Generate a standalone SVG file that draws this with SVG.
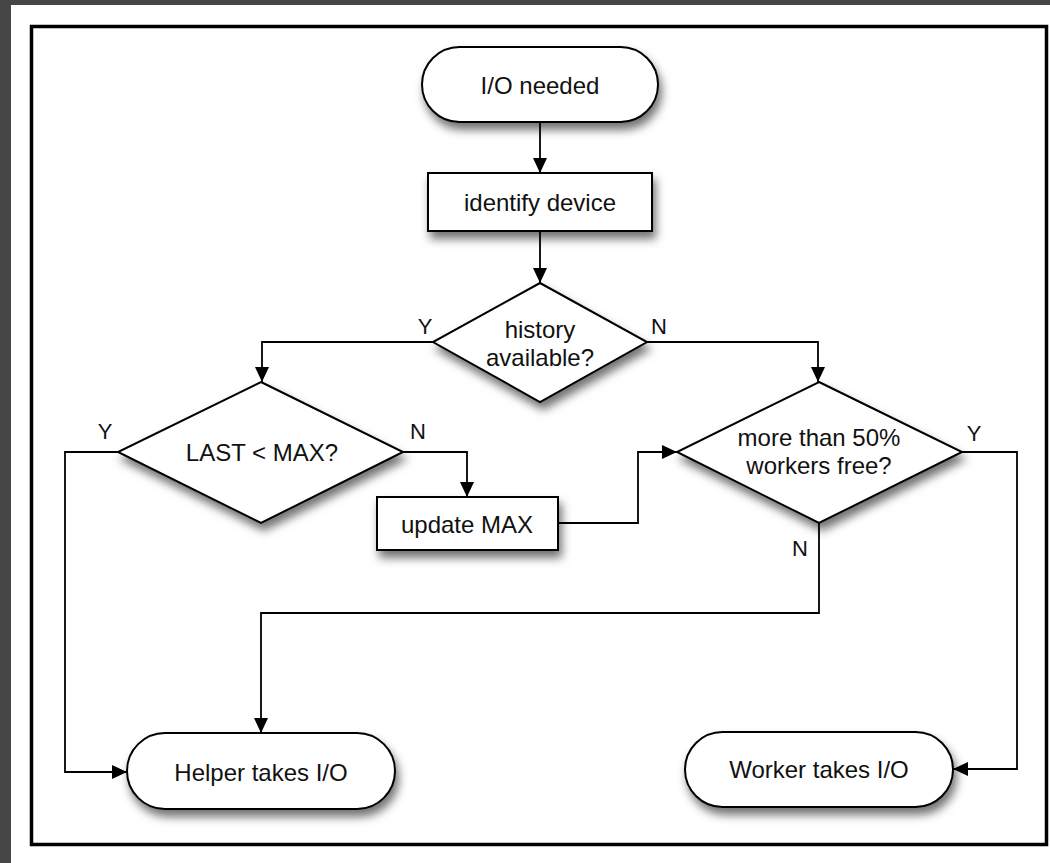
<svg xmlns="http://www.w3.org/2000/svg" width="1050" height="863" viewBox="0 0 1050 863">
<defs>
<filter id="sh" x="-20%" y="-20%" width="150%" height="160%">
<feDropShadow dx="3" dy="7" stdDeviation="5" flood-color="#000" flood-opacity="0.55"/>
</filter>
<marker id="arr" markerWidth="16" markerHeight="14" refX="15" refY="7" orient="auto" markerUnits="userSpaceOnUse">
<path d="M0,0 L15,7 L0,14 Z" fill="#000"/>
</marker>
</defs>
<style>
.shape{fill:#fff;stroke:#000;stroke-width:2;filter:url(#sh)}
.t{font-family:"Liberation Sans",Arial,sans-serif;font-size:24px;fill:#111;text-anchor:middle}
.lb{font-family:"Liberation Sans",Arial,sans-serif;font-size:22px;fill:#111;text-anchor:middle}
.c{fill:none;stroke:#000;stroke-width:1.8;marker-end:url(#arr)}
</style>
<rect x="0" y="0" width="1050" height="863" fill="#464646"/>
<rect x="11" y="5" width="1039" height="858" fill="#fff"/>
<rect x="31.5" y="26.5" width="1015" height="818" fill="none" stroke="#000" stroke-width="3.5"/>

<g id="connectors">
<path class="c" d="M540,122 L540,173"/>
<path class="c" d="M540,231 L540,283"/>
<path class="c" d="M433,342 L262,342 L262,382"/>
<path class="c" d="M647,342 L818,342 L818,382"/>
<path class="c" d="M118,452 L65,452 L65,772 L127,772"/>
<path class="c" d="M403,452 L467,452 L467,497"/>
<path class="c" d="M558,523 L638,523 L638,452 L677,452"/>
<path class="c" d="M962,452 L1017,452 L1017,769 L953,769"/>
<path class="c" d="M819,523 L819,613 L261,613 L261,733"/>
<text class="lb" x="425" y="334">Y</text>
<text class="lb" x="659" y="334">N</text>
<text class="lb" x="105" y="439">Y</text>
<text class="lb" x="418" y="439">N</text>
<text class="lb" x="974" y="441">Y</text>
<text class="lb" x="800" y="556">N</text>
</g>

<g id="io-needed">
<rect class="shape" x="422" y="47" width="236" height="75" rx="37.5" ry="37.5"/>
<text class="t" x="540" y="94">I/O needed</text>
</g>
<g id="identify-device">
<rect class="shape" x="428" y="173" width="224" height="58"/>
<text class="t" x="540" y="211">identify device</text>
</g>
<g id="history-available">
<polygon class="shape" points="540,283 647,342 540,402 433,342"/>
<text class="t" x="540" y="338">history</text>
<text class="t" x="540" y="366">available?</text>
</g>
<g id="last-max">
<polygon class="shape" points="261,382 403,452 261,523 118,452"/>
<text class="t" x="262" y="461">LAST &lt; MAX?</text>
</g>
<g id="update-max">
<rect class="shape" x="377" y="497" width="181" height="53"/>
<text class="t" x="467" y="533">update MAX</text>
</g>
<g id="workers-free">
<polygon class="shape" points="819,382 962,452 819,523 677,452"/>
<text class="t" x="819" y="446">more than 50%</text>
<text class="t" x="819" y="474">workers free?</text>
</g>
<g id="helper-takes">
<rect class="shape" x="127" y="733" width="268" height="76" rx="38" ry="38"/>
<text class="t" x="261" y="781">Helper takes I/O</text>
</g>
<g id="worker-takes">
<rect class="shape" x="685" y="732" width="268" height="75" rx="37.5" ry="37.5"/>
<text class="t" x="819" y="778">Worker takes I/O</text>
</g>
</svg>
